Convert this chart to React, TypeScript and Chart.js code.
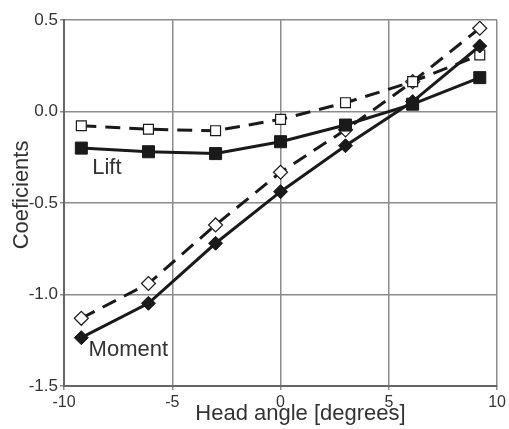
import React, { useEffect, useRef } from "react";
import { Chart, registerables } from "chart.js";

Chart.register(...registerables);

const headAngles = [-9.2, -6.1, -3.0, 0, 3.0, 6.1, 9.2];
const liftSolid = [-0.2, -0.22, -0.23, -0.165, -0.074, 0.04, 0.185];
const liftDashed = [-0.078, -0.097, -0.105, -0.043, 0.048, 0.163, 0.309];
const momentSolid = [-1.236, -1.048, -0.72, -0.438, -0.187, 0.054, 0.358];
const momentDashed = [-1.13, -0.94, -0.62, -0.332, -0.1, 0.163, 0.455];

const xTitle = "Head angle [degrees]";
const yTitle = "Coeficients";
const annotations = [
  { text: "Lift", x: -8.02, y: -0.306 },
  { text: "Moment", x: -7.03, y: -1.303 },
];

const FONT = "'Liberation Sans', Arial, sans-serif";
const INK = "#1a1a1a";
const TEXT = "#333333";

function pts(ys: number[]) {
  return ys.map((y, i) => ({ x: headAngles[i], y }));
}

const textPlugin = {
  id: "textPlugin",
  afterDraw(chart: any) {
    const ctx = chart.ctx as CanvasRenderingContext2D;
    const xs = chart.scales.x;
    const ys = chart.scales.y;
    const ca = chart.chartArea;
    ctx.save();
    ctx.fillStyle = TEXT;
    ctx.font = `22px ${FONT}`;
    ctx.textAlign = "center";
    ctx.textBaseline = "middle";
    for (const a of annotations) {
      ctx.fillText(a.text, xs.getPixelForValue(a.x), ys.getPixelForValue(a.y));
    }
    // axis titles
    ctx.fillText(xTitle, ca.left + (ca.right - ca.left) * 0.546, ca.bottom + 28);
    ctx.translate(22, ca.top + (ca.bottom - ca.top) * 0.478);
    ctx.rotate(-Math.PI / 2);
    ctx.fillText(yTitle, 0, 0);
    ctx.restore();
  },
};

export default function App() {
  const ref = useRef<HTMLCanvasElement | null>(null);
  useEffect(() => {
    document.body.style.margin = "0";
    if (!ref.current) return;
    const chart = new Chart(ref.current, {
      type: "line",
      data: {
        datasets: [
          {
            label: "Lift",
            data: pts(liftSolid),
            borderColor: INK,
            backgroundColor: INK,
            borderWidth: 3,
            pointStyle: "rect",
            pointRadius: 8.5,
            pointBackgroundColor: INK,
            pointBorderColor: INK,
            pointBorderWidth: 1,
          },
          {
            label: "Moment",
            data: pts(momentSolid),
            borderColor: INK,
            backgroundColor: INK,
            borderWidth: 3,
            pointStyle: "rectRot",
            pointRadius: 7,
            pointBackgroundColor: INK,
            pointBorderColor: INK,
            pointBorderWidth: 1,
          },
          {
            label: "Lift (dashed)",
            data: pts(liftDashed),
            borderColor: INK,
            backgroundColor: "#ffffff",
            borderWidth: 3,
            borderDash: [15, 9],
            pointStyle: "rect",
            pointRadius: 7,
            pointBackgroundColor: "#ffffff",
            pointBorderColor: INK,
            pointBorderWidth: 1.2,
          },
          {
            label: "Moment (dashed)",
            data: pts(momentDashed),
            borderColor: INK,
            backgroundColor: "#ffffff",
            borderWidth: 3,
            borderDash: [15, 9],
            pointStyle: "rectRot",
            pointRadius: 7,
            pointBackgroundColor: "#ffffff",
            pointBorderColor: INK,
            pointBorderWidth: 1.2,
          },
        ],
      },
      options: {
        responsive: false,
        animation: false,
        layout: { padding: { left: 0, right: 11, top: 20, bottom: 0 }, autoPadding: false },
        plugins: {
          legend: { display: false },
          tooltip: { enabled: false },
        },
        scales: {
          x: {
            type: "linear",
            min: -10,
            max: 10,
            afterFit: (s: any) => {
              s.height = 43;
            },
            ticks: {
              stepSize: 5,
              color: TEXT,
              font: { family: FONT, size: 16 },
              padding: 3,
              maxRotation: 0,
            },
            grid: { color: "#8c8c8c", lineWidth: 1.5, tickLength: 4 },
            border: { color: "#666666", width: 2 },
          },
          y: {
            type: "linear",
            min: -1.5,
            max: 0.5,
            afterFit: (s: any) => {
              s.width = 64;
            },
            ticks: {
              stepSize: 0.5,
              color: TEXT,
              font: { family: FONT, size: 17 },
              padding: 2,
              callback: (v: any) => Number(v).toFixed(1),
            },
            grid: { color: "#8c8c8c", lineWidth: 1.5, tickLength: 4 },
            border: { color: "#666666", width: 2 },
          },
        },
      },
      plugins: [textPlugin],
    });
    return () => chart.destroy();
  }, []);
  return <canvas ref={ref} width={509} height={429} />;
}
